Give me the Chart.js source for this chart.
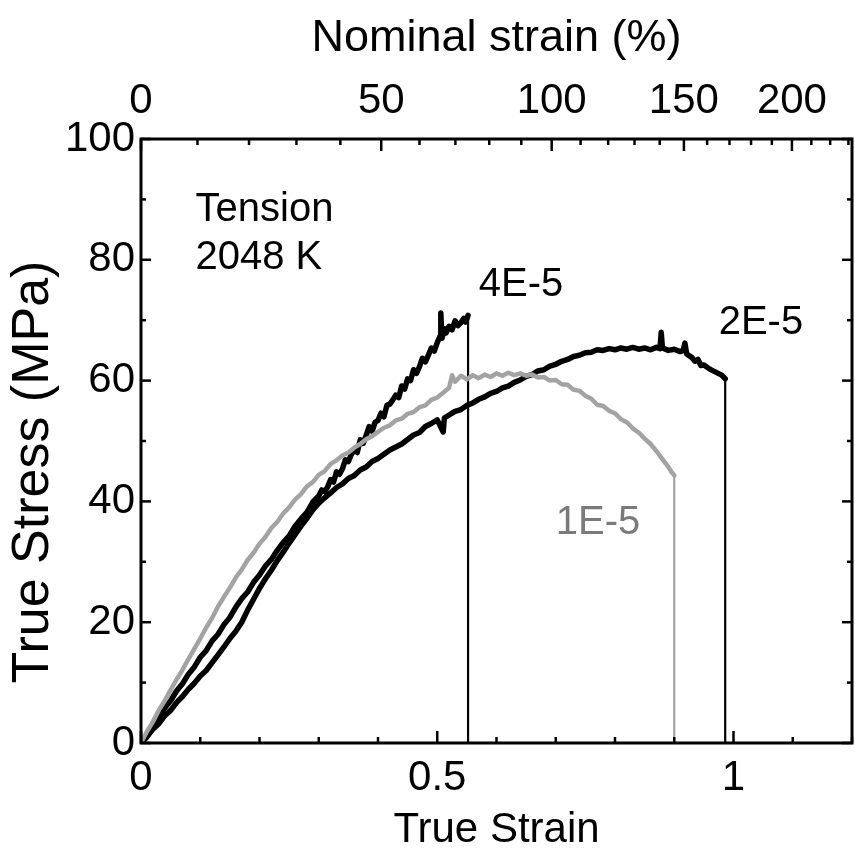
<!DOCTYPE html>
<html><head><meta charset="utf-8">
<script src="https://cdn.jsdelivr.net/npm/chart.js@4.4.1/dist/chart.umd.min.js"></script>
<style>html,body{margin:0;padding:0;background:#fff}#wrap{width:855px;height:860px}</style>
</head><body><div id="wrap"><canvas id="c" width="855" height="860"></canvas></div>
<script>
// ---- data ----
const strain4E5 = [0,0.01,0.02,0.03,0.04,0.05,0.06,0.07,0.08,0.09,0.10,0.11,0.12,0.13,0.14,0.15,0.16,0.17,0.18,0.19,0.20,0.21,0.22,0.23,0.24,0.25,0.26,0.27,0.28,0.29,0.30,0.305,0.31,0.315,0.32,0.325,0.33,0.335,0.34,0.345,0.35,0.355,0.36,0.365,0.37,0.375,0.38,0.385,0.39,0.395,0.40,0.405,0.41,0.415,0.42,0.425,0.43,0.435,0.44,0.445,0.45,0.455,0.46,0.465,0.47,0.475,0.48,0.485,0.49,0.495,0.50,0.505,0.506,0.508,0.512,0.515,0.52,0.525,0.53,0.535,0.54,0.545,0.548,0.552,0.552];
const stress4E5 = [0,1.5,2.9,4.1,5.8,7.0,8.6,9.8,11.4,12.6,14.2,15.3,16.9,18.0,19.6,20.8,22.5,23.9,25.0,26.6,27.8,29.3,30.4,31.9,33.2,34.3,35.9,37.1,38.2,39.9,40.9,41.9,41.6,42.4,43.6,43.2,44.9,44.5,45.4,46.9,46.6,47.8,48.5,48.1,50.2,49.6,50.9,52.4,51.6,53.1,53.4,54.6,54.0,55.9,56.1,56.8,57.6,57.2,59.1,58.6,60.3,60.0,61.8,61.2,62.3,63.7,63.1,64.2,65.4,64.9,66.3,67.4,71.2,67.0,68.6,67.9,69.0,68.4,69.9,69.1,69.6,70.3,69.7,70.8,0];

const strain2E5 = [0,0.01,0.02,0.03,0.04,0.05,0.06,0.07,0.08,0.09,0.10,0.11,0.12,0.13,0.14,0.15,0.16,0.17,0.18,0.19,0.20,0.21,0.22,0.23,0.24,0.25,0.26,0.27,0.28,0.29,0.30,0.31,0.32,0.33,0.34,0.35,0.36,0.37,0.38,0.39,0.40,0.42,0.44,0.46,0.47,0.48,0.49,0.50,0.51,0.512,0.52,0.53,0.54,0.55,0.56,0.57,0.58,0.59,0.60,0.61,0.62,0.63,0.64,0.65,0.66,0.67,0.68,0.69,0.70,0.71,0.72,0.73,0.74,0.75,0.76,0.77,0.78,0.79,0.80,0.81,0.82,0.83,0.84,0.85,0.86,0.87,0.876,0.878,0.880,0.89,0.90,0.91,0.915,0.918,0.921,0.93,0.935,0.94,0.945,0.95,0.96,0.97,0.98,0.986,0.986];
const stress2E5 = [0,1.0,2.3,3.2,4.5,5.4,6.7,7.7,8.9,9.9,11.1,12.0,13.3,14.6,15.9,17.3,18.5,20.0,22.0,23.8,25.6,27.2,28.6,30.2,31.6,33.1,34.5,35.9,37.2,38.6,39.7,40.6,41.4,42.3,42.9,43.8,44.3,45.2,45.7,46.6,47.1,48.5,49.5,51.0,51.4,52.4,52.9,53.5,51.5,53.8,54.3,54.9,55.2,55.9,56.3,56.9,57.3,57.9,58.2,58.8,59.1,59.7,60.1,60.7,61.0,61.6,61.8,62.4,62.7,63.2,63.5,64.0,64.2,64.6,64.7,65.1,65.0,65.3,65.1,65.4,65.2,65.5,65.2,65.4,65.1,65.5,65.3,68.0,65.4,65.0,65.2,64.8,65.0,66.2,64.4,63.8,63.2,63.5,62.5,62.6,61.9,61.4,60.9,60.3,0];

const strain1E5 = [0,0.01,0.02,0.03,0.04,0.05,0.06,0.07,0.08,0.09,0.10,0.11,0.12,0.13,0.14,0.15,0.16,0.17,0.18,0.19,0.20,0.21,0.22,0.23,0.24,0.25,0.26,0.27,0.28,0.29,0.30,0.31,0.32,0.33,0.34,0.35,0.36,0.37,0.38,0.39,0.40,0.41,0.42,0.43,0.44,0.45,0.46,0.47,0.48,0.49,0.50,0.51,0.52,0.525,0.53,0.54,0.55,0.56,0.57,0.58,0.59,0.60,0.61,0.62,0.63,0.64,0.65,0.66,0.67,0.68,0.69,0.70,0.71,0.72,0.73,0.74,0.75,0.76,0.77,0.78,0.79,0.80,0.81,0.82,0.83,0.84,0.85,0.86,0.87,0.88,0.89,0.896,0.900,0.900];
const stress1E5 = [0,1.9,3.5,5.4,7.0,8.8,10.5,12.1,13.9,15.6,17.3,19.1,20.7,22.6,24.2,25.7,27.4,28.7,30.3,31.5,33.0,34.1,35.6,36.6,38.0,39.0,40.3,41.2,42.5,43.2,44.4,45.0,46.2,46.8,47.6,48.1,48.9,49.5,50.3,50.8,51.5,52.2,52.6,53.4,53.7,54.5,54.8,55.6,55.9,56.8,57.2,58.0,58.8,60.9,59.8,60.8,60.2,60.9,60.4,61.0,60.6,61.2,60.8,61.3,60.9,61.2,60.8,61.0,60.5,60.6,60.0,60.1,59.4,59.3,58.5,58.3,57.5,57.0,56.0,55.8,55.0,54.6,53.6,53.1,52.1,51.4,50.4,49.5,48.3,47.0,45.7,44.8,44.3,0];

// axis tick values and labels
const trueStrainLabels = [0, 0.5, 1];
const trueStrainTicks = [0,0.1,0.2,0.3,0.4,0.5,0.6,0.7,0.8,0.9,1.0,1.1,1.2];
const nominalLabels = [0, 50, 100, 150, 200];
const nominalTicks = [0,10,20,30,40,50,60,70,80,90,100,110,120,130,140,150,160,170,180,190,200,210,220,230];
const stressTicks = [0,10,20,30,40,50,60,70,80,90,100];
const stressLabels = [0,20,40,60,80,100];

const FONT = "'Liberation Sans', Arial, sans-serif";
const toXY = (xs, ys) => xs.map((x, i) => ({x, y: ys[i]}));
const thinLast = n => ctx => (ctx.p1DataIndex === n - 1 ? 2.2 : undefined);

const notes = [
  {text: 'Tension', x: 0.092, y: 88.3, color: '#000'},
  {text: '2048 K', x: 0.092, y: 80.3, color: '#000'},
  {text: '4E-5', x: 0.57, y: 75.8, color: '#000'},
  {text: '2E-5', x: 0.975, y: 69.6, color: '#000'},
  {text: '1E-5', x: 0.70, y: 36.4, color: '#7a7a7a'}
];

const decor = {
  id: 'decor',
  afterDatasetsDraw(chart) {
    const {ctx, chartArea: a, scales} = chart;
    const x = scales.x, y = scales.y;
    ctx.save();
    ctx.strokeStyle = '#000';
    ctx.lineWidth = 2.5;
    const seg = (x1, y1, x2, y2) => { ctx.beginPath(); ctx.moveTo(x1, y1); ctx.lineTo(x2, y2); ctx.stroke(); };
    const near = (arr, v) => arr.some(m => Math.abs(m - v) < 1e-9);
    trueStrainTicks.forEach(v => {
      const p = x.getPixelForValue(v);
      const L = near(trueStrainLabels, v) ? 12 : 6;
      seg(p, a.bottom, p, a.bottom - L);
    });
    nominalTicks.forEach(n => {
      const p = x.getPixelForValue(Math.log(1 + n / 100));
      const L = near(nominalLabels, n) ? 12 : 6;
      seg(p, a.top, p, a.top + L);
    });
    stressTicks.forEach(v => {
      const p = y.getPixelForValue(v);
      const L = near(stressLabels, v) ? 10 : 5;
      seg(a.left, p, a.left + L, p);
      seg(a.right, p, a.right - L, p);
    });
    ctx.lineWidth = 3;
    ctx.strokeRect(a.left, a.top, a.right - a.left, a.bottom - a.top);
    // annotations
    ctx.font = '40px ' + FONT;
    ctx.textBaseline = 'middle';
    ctx.textAlign = 'left';
    notes.forEach(n => {
      ctx.fillStyle = n.color;
      ctx.fillText(n.text, x.getPixelForValue(n.x), y.getPixelForValue(n.y));
    });
    // y-axis title
    ctx.fillStyle = '#000';
    ctx.font = '52px ' + FONT;
    ctx.textAlign = 'center';
    ctx.translate(34, 472);
    ctx.rotate(-Math.PI / 2);
    ctx.fillText('True Stress (MPa)', 0, 0);
    ctx.restore();
  }
};

new Chart(document.getElementById('c'), {
  type: 'line',
  data: {
    datasets: [
      {label: '1E-5', data: toXY(strain1E5, stress1E5), borderColor: '#a3a3a3', borderWidth: 4.5,
       segment: {borderWidth: thinLast(strain1E5.length)}},
      {label: '2E-5', data: toXY(strain2E5, stress2E5), borderColor: '#000', borderWidth: 5.5,
       segment: {borderWidth: thinLast(strain2E5.length)}},
      {label: '4E-5', data: toXY(strain4E5, stress4E5), borderColor: '#000', borderWidth: 5.5,
       segment: {borderWidth: thinLast(strain4E5.length)}}
    ]
  },
  options: {
    responsive: false,
    animation: false,
    devicePixelRatio: 1,
    layout: {padding: {left: 0, right: 3, top: 0, bottom: 0}},
    elements: {point: {radius: 0}, line: {tension: 0, borderJoinStyle: 'round', borderCapStyle: 'round'}},
    plugins: {legend: {display: false}, tooltip: {enabled: false}},
    scales: {
      x: {
        type: 'linear', position: 'bottom', min: 0, max: 1.2,
        afterBuildTicks: s => { s.ticks = trueStrainLabels.map(v => ({value: v})); },
        ticks: {callback: v => String(v), color: '#000', font: {family: FONT, size: 42}, padding: 10, maxRotation: 0, autoSkip: false},
        grid: {display: false, drawTicks: false},
        border: {display: false},
        title: {display: true, text: 'True Strain', color: '#000', font: {family: FONT, size: 42}, padding: {top: 0, bottom: 4}},
        afterFit: s => { s.height = 117; }
      },
      x2: {
        type: 'linear', axis: 'x', position: 'top', min: 0, max: 1.2,
        afterBuildTicks: s => { s.ticks = nominalLabels.map(n => ({value: Math.log(1 + n / 100)})); },
        ticks: {callback: v => String(Math.round((Math.exp(v) - 1) * 100)), color: '#000', font: {family: FONT, size: 42}, padding: 12, maxRotation: 0, autoSkip: false},
        grid: {display: false, drawTicks: false},
        border: {display: false},
        title: {display: true, text: 'Nominal strain (%)', color: '#000', font: {family: FONT, size: 45}, padding: {top: 12, bottom: 0}},
        afterFit: s => { s.height = 139; }
      },
      y: {
        type: 'linear', position: 'left', min: 0, max: 100,
        afterBuildTicks: s => { s.ticks = stressLabels.map(v => ({value: v})); },
        ticks: {color: '#000', font: {family: FONT, size: 42}, padding: 6},
        grid: {display: false, drawTicks: false},
        border: {display: false},
        afterFit: s => { s.width = 141; }
      }
    }
  },
  plugins: [decor]
});
</script></body></html>
